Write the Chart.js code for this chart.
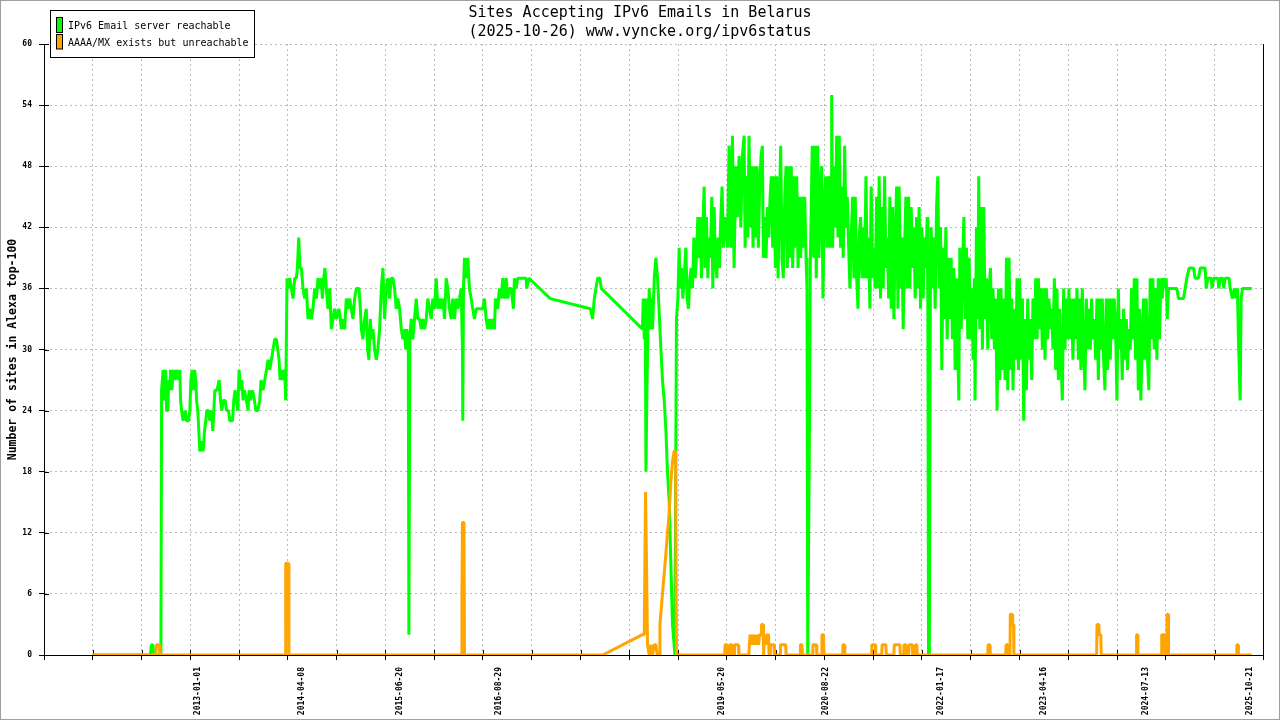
<!DOCTYPE html>
<html>
<head>
<meta charset="utf-8">
<title>Sites Accepting IPv6 Emails in Belarus</title>
<script src="https://cdn.jsdelivr.net/npm/chart.js@4.4.1/dist/chart.umd.min.js"></script>
<style>
  html, body { margin: 0; padding: 0; background: #fff; }
  canvas { display: block; }
</style>
</head>
<body>
<canvas id="chart" width="1280" height="720"></canvas>
<script>
const titleLines = ["Sites Accepting IPv6 Emails in Belarus", "(2025-10-26) www.vyncke.org/ipv6status"]
const yAxisTitle = "Number of sites in Alexa top-100"
const seriesNames = ["IPv6 Email server reachable", "AAAA/MX exists but unreachable"]
const seriesColors = ["#00ff00", "#ffa500"]
const tickDates = ["2013-01-01", "2014-04-08", "2015-06-20", "2016-08-29", "2019-05-20",
  "2020-08-22", "2022-01-17", "2023-04-16", "2024-07-13", "2025-10-21"]

// x is the measurement date as a decimal year
const reachableX = [
  2011.720, 2012.423, 2012.435, 2012.453, 2012.466, 2012.551, 2012.559, 2012.578, 2012.591, 2012.608,
  2012.620, 2012.636, 2012.644, 2012.660, 2012.668, 2012.684, 2012.700, 2012.721, 2012.741, 2012.766,
  2012.781, 2012.790, 2012.802, 2012.821, 2012.846, 2012.863, 2012.887, 2012.903, 2012.915, 2012.931,
  2012.943, 2012.960, 2012.976, 2012.984, 2013.000, 2013.012, 2013.024, 2013.049, 2013.064, 2013.081,
  2013.097, 2013.109, 2013.130, 2013.146, 2013.166, 2013.182, 2013.194, 2013.207, 2013.234, 2013.259,
  2013.276, 2013.292, 2013.307, 2013.332, 2013.349, 2013.373, 2013.389, 2013.422, 2013.437, 2013.453,
  2013.470, 2013.486, 2013.502, 2013.519, 2013.535, 2013.550, 2013.567, 2013.592, 2013.611, 2013.623,
  2013.640, 2013.665, 2013.689, 2013.705, 2013.729, 2013.753, 2013.769, 2013.793, 2013.814, 2013.835,
  2013.854, 2013.875, 2013.895, 2013.915, 2013.935, 2013.956, 2013.972, 2013.988, 2014.000, 2014.017,
  2014.036, 2014.057, 2014.069, 2014.085, 2014.097, 2014.118, 2014.138, 2014.158, 2014.178, 2014.199,
  2014.211, 2014.227, 2014.243, 2014.260, 2014.279, 2014.300, 2014.320, 2014.340, 2014.361, 2014.381,
  2014.401, 2014.421, 2014.442, 2014.461, 2014.482, 2014.503, 2014.515, 2014.531, 2014.546, 2014.563,
  2014.583, 2014.604, 2014.624, 2014.644, 2014.664, 2014.685, 2014.717, 2014.746, 2014.765, 2014.786,
  2014.806, 2014.826, 2014.847, 2014.867, 2014.887, 2014.907, 2014.928, 2014.960, 2014.977, 2014.989,
  2015.008, 2015.029, 2015.049, 2015.065, 2015.081, 2015.098, 2015.114, 2015.130, 2015.150, 2015.171,
  2015.190, 2015.211, 2015.232, 2015.251, 2015.272, 2015.292, 2015.312, 2015.332, 2015.353, 2015.373,
  2015.393, 2015.414, 2015.433, 2015.454, 2015.475, 2015.494, 2015.515, 2015.527, 2015.543, 2015.560,
  2015.567, 2015.579, 2015.596, 2015.615, 2015.636, 2015.657, 2015.676, 2015.697, 2015.718, 2015.737,
  2015.758, 2015.778, 2015.798, 2015.818, 2015.839, 2015.858, 2015.879, 2015.900, 2015.919, 2015.940,
  2015.960, 2015.980, 2016.001, 2016.021, 2016.041, 2016.061, 2016.082, 2016.101, 2016.122, 2016.143,
  2016.162, 2016.183, 2016.203, 2016.219, 2016.223, 2016.231, 2016.244, 2016.264, 2016.284, 2016.304,
  2016.325, 2016.344, 2016.365, 2016.386, 2016.426, 2016.466, 2016.486, 2016.507, 2016.527, 2016.547,
  2016.568, 2016.587, 2016.608, 2016.620, 2016.648, 2016.669, 2016.689, 2016.709, 2016.729, 2016.750,
  2016.770, 2016.790, 2016.811, 2016.839, 2016.851, 2016.872, 2016.891, 2016.993, 2017.000, 2017.025,
  2017.288, 2017.774, 2017.802, 2017.823, 2017.863, 2017.890, 2017.908, 2018.409, 2018.418, 2018.430,
  2018.442, 2018.451, 2018.463, 2018.475, 2018.491, 2018.503, 2018.515, 2018.531, 2018.552, 2018.572,
  2018.592, 2018.604, 2018.633, 2018.652, 2018.673, 2018.694, 2018.713, 2018.734, 2018.754, 2018.774,
  2018.794, 2018.803, 2018.812, 2018.822, 2018.839, 2018.855, 2018.867, 2018.883, 2018.900, 2018.916,
  2018.936, 2018.952, 2018.968, 2018.985, 2019.001, 2019.017, 2019.034, 2019.049, 2019.065, 2019.082,
  2019.098, 2019.114, 2019.126, 2019.143, 2019.159, 2019.171, 2019.187, 2019.204, 2019.219, 2019.235,
  2019.252, 2019.264, 2019.280, 2019.296, 2019.313, 2019.329, 2019.345, 2019.362, 2019.377, 2019.393,
  2019.410, 2019.426, 2019.442, 2019.462, 2019.483, 2019.503, 2019.523, 2019.544, 2019.563, 2019.584,
  2019.605, 2019.624, 2019.645, 2019.657, 2019.673, 2019.690, 2019.705, 2019.721, 2019.738, 2019.754,
  2019.770, 2019.787, 2019.803, 2019.818, 2019.835, 2019.851, 2019.867, 2019.879, 2019.896, 2019.912,
  2019.928, 2019.945, 2019.961, 2019.976, 2019.993, 2020.009, 2020.025, 2020.042, 2020.058, 2020.073,
  2020.090, 2020.106, 2020.122, 2020.139, 2020.155, 2020.171, 2020.188, 2020.203, 2020.219, 2020.236,
  2020.252, 2020.268, 2020.285, 2020.301, 2020.317, 2020.333, 2020.349, 2020.365, 2020.382, 2020.398,
  2020.410, 2020.419, 2020.440, 2020.450, 2020.474, 2020.491, 2020.507, 2020.523, 2020.540, 2020.556,
  2020.572, 2020.589, 2020.604, 2020.620, 2020.637, 2020.653, 2020.669, 2020.686, 2020.702, 2020.710,
  2020.722, 2020.738, 2020.754, 2020.771, 2020.787, 2020.802, 2020.819, 2020.835, 2020.851, 2020.868,
  2020.884, 2020.900, 2020.917, 2020.932, 2020.948, 2020.965, 2020.981, 2020.997, 2021.014, 2021.030,
  2021.045, 2021.062, 2021.078, 2021.094, 2021.111, 2021.127, 2021.143, 2021.160, 2021.175, 2021.191,
  2021.208, 2021.224, 2021.240, 2021.257, 2021.272, 2021.288, 2021.305, 2021.321, 2021.337, 2021.354,
  2021.370, 2021.386, 2021.403, 2021.418, 2021.434, 2021.451, 2021.467, 2021.483, 2021.500, 2021.516,
  2021.531, 2021.548, 2021.564, 2021.580, 2021.597, 2021.613, 2021.629, 2021.646, 2021.661, 2021.677,
  2021.694, 2021.710, 2021.726, 2021.743, 2021.758, 2021.774, 2021.791, 2021.807, 2021.823, 2021.840,
  2021.856, 2021.872, 2021.880, 2021.888, 2021.898, 2021.910, 2021.920, 2021.937, 2021.953, 2021.969,
  2021.986, 2022.001, 2022.017, 2022.034, 2022.050, 2022.066, 2022.083, 2022.099, 2022.115, 2022.132,
  2022.147, 2022.163, 2022.180, 2022.196, 2022.212, 2022.229, 2022.244, 2022.257, 2022.269, 2022.285,
  2022.302, 2022.318, 2022.333, 2022.350, 2022.366, 2022.382, 2022.399, 2022.414, 2022.430, 2022.447,
  2022.454, 2022.471, 2022.487, 2022.499, 2022.512, 2022.527, 2022.544, 2022.560, 2022.576, 2022.593,
  2022.609, 2022.625, 2022.642, 2022.657, 2022.673, 2022.690, 2022.706, 2022.722, 2022.739, 2022.755,
  2022.770, 2022.787, 2022.803, 2022.819, 2022.836, 2022.852, 2022.868, 2022.885, 2022.900, 2022.916,
  2022.933, 2022.949, 2022.965, 2022.982, 2022.997, 2023.013, 2023.030, 2023.046, 2023.062, 2023.079,
  2023.095, 2023.111, 2023.128, 2023.143, 2023.159, 2023.176, 2023.192, 2023.208, 2023.225, 2023.240,
  2023.256, 2023.273, 2023.289, 2023.305, 2023.322, 2023.338, 2023.353, 2023.370, 2023.386, 2023.402,
  2023.419, 2023.435, 2023.451, 2023.468, 2023.483, 2023.499, 2023.516, 2023.532, 2023.548, 2023.565,
  2023.581, 2023.596, 2023.613, 2023.629, 2023.645, 2023.662, 2023.678, 2023.694, 2023.711, 2023.726,
  2023.742, 2023.759, 2023.775, 2023.791, 2023.808, 2023.824, 2023.839, 2023.856, 2023.872, 2023.888,
  2023.905, 2023.921, 2023.937, 2023.954, 2023.969, 2023.985, 2024.002, 2024.018, 2024.034, 2024.051,
  2024.067, 2024.082, 2024.099, 2024.115, 2024.131, 2024.148, 2024.164, 2024.180, 2024.197, 2024.212,
  2024.228, 2024.245, 2024.261, 2024.277, 2024.294, 2024.309, 2024.325, 2024.342, 2024.358, 2024.374,
  2024.391, 2024.407, 2024.423, 2024.440, 2024.455, 2024.471, 2024.488, 2024.504, 2024.520, 2024.537,
  2024.552, 2024.568, 2024.585, 2024.601, 2024.617, 2024.634, 2024.650, 2024.666, 2024.683, 2024.698,
  2024.714, 2024.731, 2024.747, 2024.763, 2024.780, 2024.792, 2024.808, 2024.909, 2024.929, 2024.990,
  2025.010, 2025.030, 2025.059, 2025.111, 2025.132, 2025.172, 2025.193, 2025.253, 2025.266, 2025.285,
  2025.326, 2025.338, 2025.354, 2025.407, 2025.419, 2025.436, 2025.467, 2025.480, 2025.496, 2025.545,
  2025.557, 2025.585, 2025.609, 2025.630, 2025.646, 2025.658, 2025.679, 2025.691, 2025.707, 2025.820
]
const reachableY = [
  0, 0, 1, 1, 0, 0, 26, 28, 25, 28,
  24, 24, 27, 26, 28, 26, 28, 27, 28, 27,
  28, 25, 24, 23, 24, 23, 23, 24, 27, 28,
  26, 28, 27, 25, 24, 22, 20, 21, 20, 22,
  23, 24, 24, 23, 24, 22, 24, 26, 26, 27,
  25, 24, 25, 25, 24, 24, 23, 23, 25, 26,
  25, 24, 28, 26, 27, 25, 26, 25, 24, 26,
  25, 26, 25, 24, 24, 25, 27, 26, 27, 28,
  29, 28, 29, 30, 31, 31, 30, 29, 27, 28,
  27, 28, 25, 37, 36, 37, 36, 35, 37, 37,
  38, 41, 38, 38, 36, 35, 36, 33, 34, 33,
  34, 36, 35, 37, 36, 37, 35, 37, 38, 36,
  34, 36, 32, 33, 34, 33, 34, 32, 33, 32,
  35, 34, 35, 34, 33, 35, 36, 36, 34, 32,
  31, 33, 34, 30, 29, 33, 31, 32, 30, 29,
  30, 32, 36, 38, 33, 36, 37, 35, 37, 37,
  36, 34, 35, 34, 32, 31, 32, 30, 32, 31,
  2, 31, 33, 31, 33, 35, 33, 33, 32, 33,
  32, 33, 35, 34, 33, 35, 34, 37, 34, 35,
  34, 35, 33, 37, 36, 34, 33, 35, 33, 35,
  34, 35, 36, 30, 23, 36, 39, 37, 39, 36,
  35, 34, 33, 34, 34, 34, 35, 33, 32, 33,
  32, 33, 32, 35, 34, 36, 35, 37, 35, 37,
  35, 36, 36, 34, 37, 36, 37, 37, 36, 37,
  35, 34, 33, 35, 37, 37, 36, 32, 35, 31,
  35, 18, 26, 32, 36, 32, 35, 32, 37, 39,
  37, 35, 30, 27, 25, 22, 18, 15, 9, 3,
  1, 0, 16, 33, 35, 40, 36, 38, 35, 37,
  40, 35, 34, 37, 38, 36, 41, 37, 39, 43,
  39, 43, 37, 42, 46, 38, 43, 37, 41, 39,
  45, 36, 44, 39, 37, 41, 38, 43, 46, 40,
  43, 42, 40, 50, 40, 51, 38, 48, 43, 49,
  42, 49, 51, 40, 47, 41, 51, 42, 48, 40,
  48, 41, 48, 40, 46, 49, 50, 39, 43, 39,
  44, 41, 45, 47, 40, 47, 38, 47, 37, 44,
  50, 39, 37, 45, 48, 38, 48, 39, 48, 38,
  47, 40, 47, 38, 45, 39, 45, 40, 45, 39,
  36, 0, 22, 38, 50, 39, 50, 37, 50, 39,
  46, 48, 35, 44, 47, 40, 47, 40, 47, 55,
  40, 48, 42, 51, 41, 51, 40, 46, 39, 50,
  42, 45, 40, 36, 41, 45, 37, 45, 37, 34,
  41, 43, 37, 42, 37, 47, 37, 41, 34, 46,
  37, 40, 36, 45, 36, 47, 35, 44, 36, 47,
  38, 41, 35, 45, 34, 44, 33, 41, 46, 34,
  46, 36, 41, 32, 40, 45, 36, 45, 36, 44,
  38, 42, 35, 43, 36, 44, 34, 42, 35, 41,
  38, 43, 34, 0, 0, 35, 42, 36, 41, 34,
  44, 47, 36, 42, 28, 40, 33, 42, 31, 39,
  33, 39, 31, 38, 28, 37, 30, 25, 40, 32,
  38, 43, 33, 40, 31, 39, 31, 36, 29, 37,
  25, 42, 33, 47, 32, 44, 30, 44, 33, 37,
  30, 36, 38, 31, 36, 30, 35, 24, 36, 27,
  36, 28, 35, 27, 39, 26, 39, 28, 35, 26,
  34, 29, 37, 28, 37, 29, 35, 23, 33, 26,
  35, 29, 33, 27, 35, 31, 37, 31, 37, 32,
  36, 30, 36, 29, 36, 31, 35, 32, 34, 30,
  37, 28, 36, 27, 34, 29, 25, 36, 30, 35,
  31, 36, 31, 35, 29, 35, 31, 36, 29, 35,
  28, 36, 30, 26, 35, 30, 34, 30, 35, 31,
  33, 29, 35, 27, 35, 30, 35, 29, 26, 35,
  28, 35, 29, 35, 31, 35, 32, 25, 36, 30,
  33, 27, 34, 29, 33, 28, 32, 30, 36, 31,
  37, 29, 37, 26, 34, 25, 31, 35, 29, 35,
  29, 26, 37, 31, 37, 30, 36, 29, 37, 31,
  37, 35, 37, 36, 37, 33, 36, 36, 35, 35,
  36, 37, 38, 38, 37, 37, 38, 38, 36, 37,
  37, 36, 37, 37, 36, 37, 37, 36, 37, 37,
  36, 35, 36, 35, 36, 31, 25, 35, 36, 36
]

const unreachableX = [
  2011.720, 2012.490, 2012.496, 2012.532, 2012.538, 2014.063, 2014.069, 2014.102, 2014.108, 2016.207,
  2016.213, 2016.219, 2016.237, 2016.244, 2017.924, 2018.409, 2018.430, 2018.446, 2018.458, 2018.470,
  2018.491, 2018.512, 2018.531, 2018.552, 2018.572, 2018.588, 2018.612, 2018.621, 2018.652, 2018.673,
  2018.694, 2018.713, 2018.734, 2018.754, 2018.774, 2018.794, 2018.812, 2018.822, 2019.408, 2019.414,
  2019.438, 2019.444, 2019.462, 2019.469, 2019.499, 2019.505, 2019.523, 2019.529, 2019.575, 2019.581,
  2019.703, 2019.708, 2019.718, 2019.736, 2019.748, 2019.766, 2019.778, 2019.797, 2019.809, 2019.821,
  2019.833, 2019.851, 2019.857, 2019.875, 2019.882, 2019.894, 2019.912, 2019.924, 2019.942, 2019.948,
  2019.961, 2019.965, 2020.009, 2020.014, 2020.082, 2020.087, 2020.151, 2020.156, 2020.325, 2020.330,
  2020.349, 2020.354, 2020.477, 2020.482, 2020.525, 2020.530, 2020.586, 2020.592, 2020.610, 2020.617,
  2020.841, 2020.846, 2020.866, 2020.870, 2021.194, 2021.198, 2021.242, 2021.247, 2021.319, 2021.324,
  2021.370, 2021.375, 2021.467, 2021.472, 2021.540, 2021.545, 2021.586, 2021.591, 2021.613, 2021.618,
  2021.647, 2021.651, 2021.691, 2021.696, 2021.726, 2021.730, 2021.746, 2021.751, 2022.609, 2022.614,
  2022.636, 2022.640, 2022.827, 2022.832, 2022.852, 2022.857, 2022.879, 2022.883, 2022.906, 2022.912,
  2022.922, 2022.927, 2023.933, 2023.938, 2023.960, 2023.965, 2023.984, 2023.989, 2024.414, 2024.419,
  2024.431, 2024.436, 2024.720, 2024.725, 2024.759, 2024.764, 2024.784, 2024.789, 2024.803, 2024.808,
  2025.634, 2025.639, 2025.653, 2025.658, 2025.820
]
const unreachableY = [
  0, 0, 1, 1, 0, 0, 9, 9, 0, 0,
  6, 13, 13, 0, 0, 2, 2, 16, 9, 1,
  0, 1, 0, 1, 1, 0, 0, 3, 6, 8,
  10, 12, 14, 17, 19, 20, 20, 0, 0, 1,
  1, 0, 0, 1, 1, 0, 0, 1, 1, 0,
  0, 1, 2, 1, 2, 1, 2, 1, 2, 1,
  2, 2, 3, 3, 0, 2, 1, 2, 2, 0,
  0, 1, 1, 0, 0, 1, 1, 0, 0, 1,
  1, 0, 0, 1, 1, 0, 0, 2, 2, 0,
  0, 1, 1, 0, 0, 1, 1, 0, 0, 1,
  1, 0, 0, 1, 1, 0, 0, 1, 1, 0,
  0, 1, 1, 0, 0, 1, 1, 0, 0, 1,
  1, 0, 0, 1, 1, 0, 0, 4, 4, 3,
  3, 0, 0, 3, 3, 2, 2, 0, 0, 2,
  2, 0, 0, 2, 2, 0, 0, 4, 4, 0,
  0, 1, 1, 0, 0
]

// axis window, in decimal years
const xMin = 2011.1287
const xMax = 2025.9618
const gridCount = 25

const mono = "'DejaVu Sans Mono', 'Liberation Mono', monospace"

function yearOf(date) {
  const [y, m, d] = date.split("-").map(Number)
  return 2013 + (Date.UTC(y, m - 1, d) - Date.UTC(2013, 0, 1)) / 86400000 / 365.25
}

function toPoints(xs, ys) {
  if (xs.length !== ys.length) console.warn("length mismatch", xs.length, ys.length)
  return xs.map((x, i) => ({ x: x, y: ys[i] }))
}

const gridStep = (xMax - xMin) / gridCount
const gridTicks = []
for (let k = 0; k <= gridCount; k++) gridTicks.push(xMin + k * gridStep)
const gridSet = new Set(gridTicks)
const labelByValue = new Map(tickDates.map((d) => [yearOf(d), d]))

const decor = {
  id: "decor",
  beforeDraw(chart) {
    const { ctx, width, height } = chart
    ctx.save()
    ctx.fillStyle = "#fff"
    ctx.fillRect(0, 0, width, height)
    ctx.restore()
  },
  beforeDatasetsDraw(chart) {
    // inward half of the tick marks
    const { ctx, chartArea, scales } = chart
    ctx.save()
    ctx.strokeStyle = "#000"
    ctx.lineWidth = 1
    ctx.beginPath()
    scales.y.ticks.forEach((t, i) => {
      const y = Math.round(scales.y.getPixelForTick(i)) + 0.5
      ctx.moveTo(chartArea.left, y)
      ctx.lineTo(chartArea.left + 5, y)
    })
    gridTicks.forEach((v) => {
      const x = Math.round(scales.x.getPixelForValue(v)) + 0.5
      ctx.moveTo(x, chartArea.bottom)
      ctx.lineTo(x, chartArea.bottom - 5)
    })
    ctx.stroke()
    ctx.restore()
  },
  afterDraw(chart) {
    const { ctx, chartArea } = chart
    ctx.save()

    // right border of the plot
    const rx = Math.round(chartArea.right) + 0.5
    ctx.strokeStyle = "#000"
    ctx.lineWidth = 1
    ctx.beginPath()
    ctx.moveTo(rx, chartArea.top)
    ctx.lineTo(rx, chartArea.bottom)
    ctx.stroke()

    // title
    ctx.fillStyle = "#000"
    ctx.font = "15px " + mono
    ctx.textAlign = "center"
    ctx.textBaseline = "middle"
    ctx.fillText(titleLines[0], 640, 13)
    ctx.fillText(titleLines[1], 640, 32)

    // legend box
    ctx.fillStyle = "#fff"
    ctx.fillRect(50, 10, 205, 48)
    ctx.strokeStyle = "#000"
    ctx.strokeRect(50.5, 10.5, 204, 47)
    const rows = [{ top: 17.5, h: 15, mid: 26 }, { top: 34.5, h: 14.5, mid: 43 }]
    ctx.font = "10px " + mono
    ctx.textAlign = "left"
    rows.forEach((r, i) => {
      ctx.fillStyle = seriesColors[i]
      ctx.fillRect(56.5, r.top, 6, r.h)
      ctx.strokeRect(56.5, r.top, 6, r.h)
      ctx.fillStyle = "#000"
      ctx.fillText(seriesNames[i], 68, r.mid)
    })

    // outer frame
    ctx.strokeStyle = "#a0a0a0"
    ctx.strokeRect(0.5, 0.5, chart.width - 1, chart.height - 1)
    ctx.restore()
  },
}

const lineStyle = {
  borderWidth: 3,
  pointRadius: 0,
  tension: 0,
  borderJoinStyle: "bevel",
  borderCapStyle: "butt",
  fill: false,
}

new Chart(document.getElementById("chart"), {
  type: "line",
  data: {
    datasets: [
      Object.assign({
        label: seriesNames[1],
        data: toPoints(unreachableX, unreachableY),
        borderColor: seriesColors[1],
        order: 1,
      }, lineStyle),
      Object.assign({
        label: seriesNames[0],
        data: toPoints(reachableX, reachableY),
        borderColor: seriesColors[0],
        order: 2,
      }, lineStyle),
    ],
  },
  options: {
    responsive: false,
    animation: false,
    devicePixelRatio: 1,
    events: [],
    layout: { padding: { top: 44, right: 15, left: 0, bottom: 0 } },
    plugins: {
      legend: { display: false },
      title: { display: false },
      tooltip: { enabled: false },
    },
    scales: {
      x: {
        type: "linear",
        min: xMin,
        max: xMax,
        afterBuildTicks: (scale) => {
          const values = gridTicks.concat(Array.from(labelByValue.keys())).sort((a, b) => a - b)
          scale.ticks = values.map((v) => ({ value: v }))
        },
        afterFit: (scale) => {
          scale.height = 65
        },
        ticks: {
          autoSkip: false,
          minRotation: 90,
          maxRotation: 90,
          padding: 7,
          color: "#000",
          font: { family: mono, size: 8, weight: "bold" },
          callback: (v) => labelByValue.get(v) || "",
        },
        grid: {
          color: (c) => (c.tick && gridSet.has(c.tick.value) ? "#bbbbbb" : "rgba(0,0,0,0)"),
          tickColor: (c) => (c.tick && gridSet.has(c.tick.value) ? "#000" : "rgba(0,0,0,0)"),
          tickLength: 5,
          tickBorderDash: [],
          lineWidth: 1,
        },
        border: { display: true, color: "#000", width: 1, dash: [2, 3] },
      },
      y: {
        min: 0,
        max: 60,
        afterFit: (scale) => {
          scale.width = 44
        },
        ticks: {
          stepSize: 6,
          padding: 7,
          color: "#000",
          font: { family: mono, size: 8, weight: "bold" },
        },
        grid: {
          color: "#bbbbbb",
          tickColor: "#000",
          tickLength: 5,
          tickBorderDash: [],
          lineWidth: 1,
        },
        border: { display: true, color: "#000", width: 1, dash: [2, 3] },
        title: {
          display: true,
          text: yAxisTitle,
          color: "#000",
          font: { family: mono, size: 11.5, weight: "bold" },
          padding: { top: 6, bottom: 0 },
        },
      },
    },
  },
  plugins: [decor],
})
</script>
</body>
</html>
